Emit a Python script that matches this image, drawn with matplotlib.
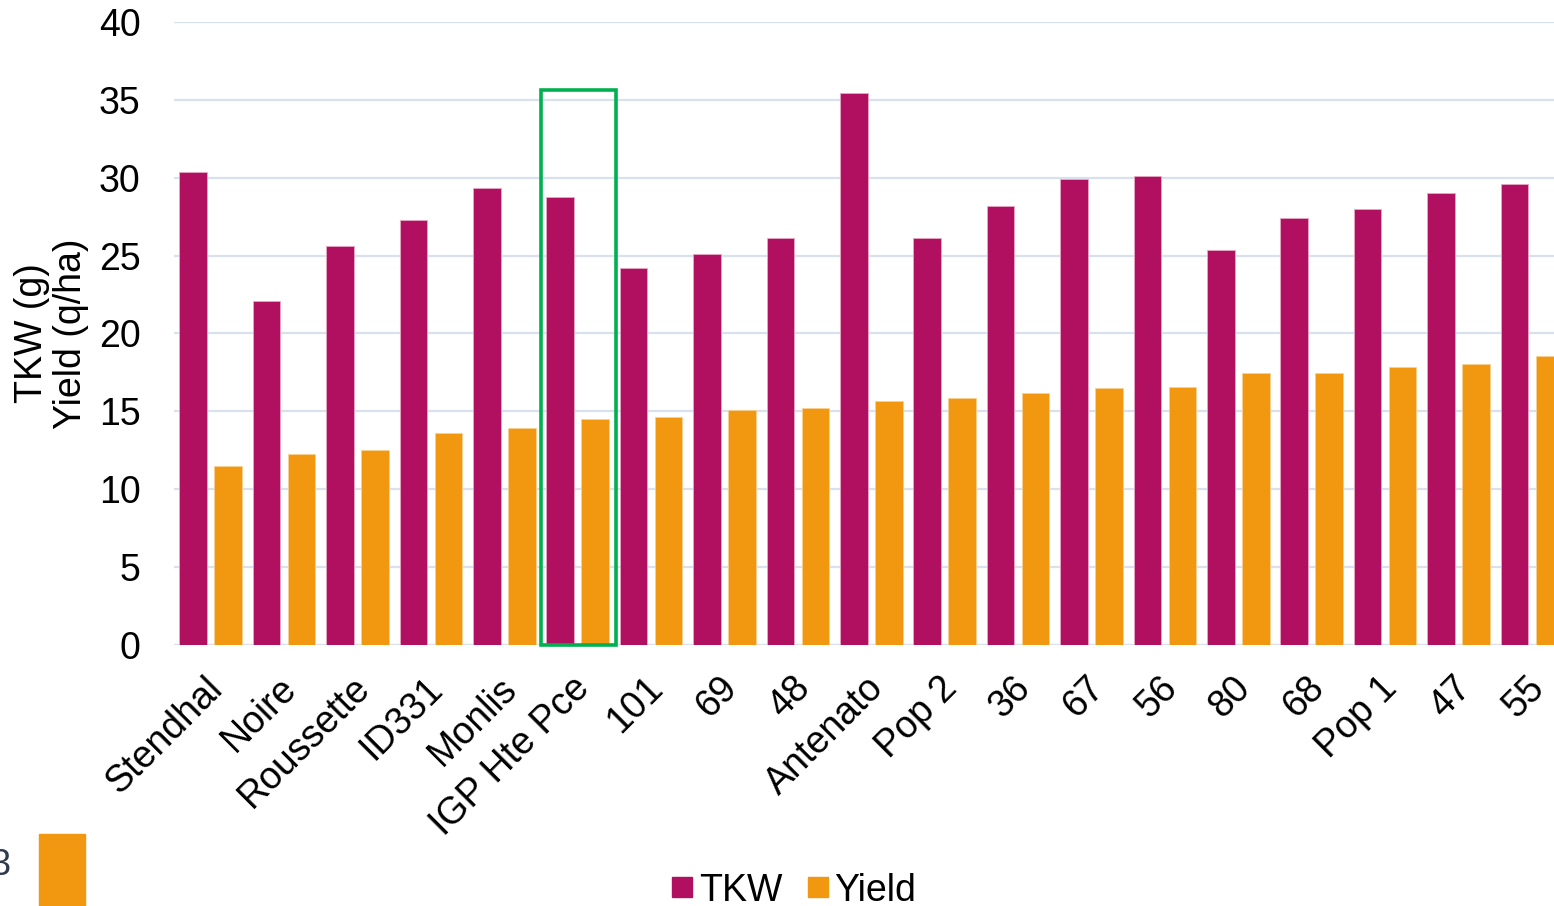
import matplotlib.pyplot as plt
import numpy as np
from matplotlib.lines import Line2D
from matplotlib.patches import Rectangle
from matplotlib.transforms import ScaledTranslation

plt.rcParams["font.family"] = ["Liberation Sans", "DejaVu Sans"]

# Varieties and measurements
varieties = ["Stendhal", "Noire", "Roussette", "ID331", "Monlis", "IGP Hte Pce",
             "101", "69", "48", "Antenato", "Pop 2", "36", "67", "56", "80",
             "68", "Pop 1", "47", "55"]
tkw = [30.35, 22.09, 25.59, 27.26, 29.34, 28.74, 24.18, 25.10, 26.13, 35.41,
       26.15, 28.16, 29.92, 30.14, 25.33, 27.39, 27.99, 29.02, 29.58]
yield_qha = [11.47, 12.29, 12.55, 13.64, 13.96, 14.48, 14.67, 15.06, 15.21, 15.66,
             15.87, 16.17, 16.47, 16.54, 17.48, 17.48, 17.82, 18.02, 18.53]

c_tkw = "#B0105F"
c_yield = "#F29810"
c_grid = "#D9E2EC"
fs = 27

fig = plt.figure(figsize=(15.54, 9.06), dpi=100)
ax = fig.add_axes([0.11197, 0.28808, 0.89743, 0.68764])

x = np.arange(len(varieties))
w = 0.377
ax.bar(x - 0.238, tkw, w, color=c_tkw, edgecolor="#E8A8C4", linewidth=0.6, zorder=3)
ax.bar(x + 0.238, yield_qha, w, color=c_yield, edgecolor="#F8D090", linewidth=0.6, zorder=3)

ax.set_xlim(-0.5, len(varieties) - 0.5)
ax.set_ylim(0, 40)
ax.set_yticks(range(0, 41, 5))
ax.yaxis.grid(True, color=c_grid, linewidth=1.6, zorder=0)
ax.set_axisbelow(True)
for s in ax.spines.values():
    s.set_visible(False)
ax.axhline(0, color=c_grid, linewidth=1.6, zorder=2)

ax.tick_params(axis="y", length=0, pad=24, labelsize=fs)
ax.tick_params(axis="x", length=0, pad=18, labelsize=fs)
ax.set_xticks(x)
ax.set_xticklabels(varieties, rotation=45, ha="right", va="top",
                   rotation_mode="anchor")
shift = ScaledTranslation(-6 / 100, 0, fig.dpi_scale_trans)
for lab in ax.get_xticklabels():
    lab.set_transform(lab.get_transform() + shift)
ax.set_ylabel("TKW (g)\nYield (q/ha)", fontsize=fs, linespacing=1.1)
ax.yaxis.set_label_coords(-0.061, 0.5)

# highlight box round the IGP Hte Pce pair
ax.add_patch(Rectangle((4.5, 0), 1.022, 35.65, fill=False, edgecolor="#00B050",
                       linewidth=2.6, zorder=4, clip_on=False))

handles = [Line2D([], [], linestyle="none", marker="s", markersize=14, color=c_tkw),
           Line2D([], [], linestyle="none", marker="s", markersize=14, color=c_yield)]
fig.legend(handles, ["TKW", "Yield"], loc="center", bbox_to_anchor=(0.51, 0.017),
           ncol=2, frameon=False, fontsize=fs, handletextpad=0.1,
           columnspacing=0.6, handlelength=0.7, borderpad=0)

# slide fragment at lower left
fig.text(-0.006, 0.045, "3", fontsize=26, color="#2F3B4B", ha="left", va="center")
fig.patches.append(Rectangle((39 / 1554, 0), 46 / 1554, 72 / 906, color=c_yield,
                             transform=fig.transFigure, figure=fig))

fig.savefig("out.png", dpi=100)
